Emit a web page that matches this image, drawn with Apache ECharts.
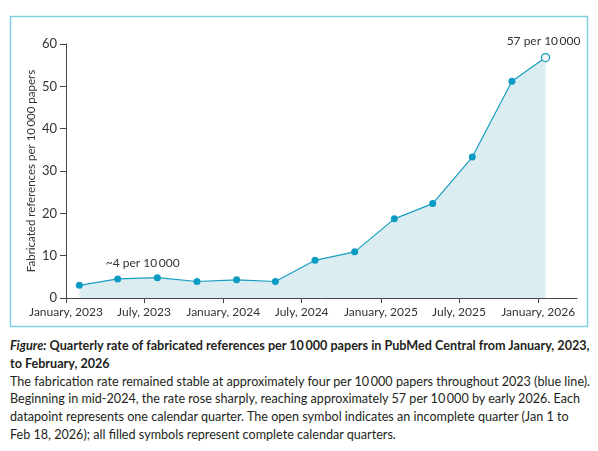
<!DOCTYPE html>
<html lang="en">
  <head>
    <meta charset="UTF-8" />
    <title>Fabricated references</title>
    <script src="https://cdn.jsdelivr.net/npm/echarts@6/dist/echarts.min.js"></script>
    <style>
      body { margin: 0; background: #fff; font-family: Lato, sans-serif; color: #231f20; }
      #chart { position: absolute; left: 0; top: 0; width: 598px; height: 330px; }
      #caption { position: absolute; left: 10px; top: 337px; width: 585px; font-size: 12.6px; line-height: 17.8px; white-space: nowrap; }
      #caption .title { font-weight: bold; }
    </style>
  </head>
  <body>
    <div id="chart"></div>
    <div id="caption">
      <div class="title"><i>Figure:</i> Quarterly rate of fabricated references per 10&#8201;000 papers in PubMed Central from January, 2023,<br>to February, 2026</div>
      <div>The fabrication rate remained stable at approximately four per 10&#8201;000 papers throughout 2023 (blue line).<br>Beginning in mid-2024, the rate rose sharply, reaching approximately 57 per 10&#8201;000 by early 2026. Each<br>datapoint represents one calendar quarter. The open symbol indicates an incomplete quarter (Jan 1 to<br>Feb 18, 2026); all filled symbols represent complete calendar quarters.</div>
    </div>
    <script>
      // quarterly datapoints (last one is the incomplete quarter)
      const pointDates = ['2023-02-01', '2023-05-01', '2023-08-01', '2023-11-01', '2024-02-01', '2024-05-01',
        '2024-08-01', '2024-11-01', '2025-02-01', '2025-05-01', '2025-08-01', '2025-11-01', '2026-01-18'];
      const rates = [3.0, 4.5, 4.8, 3.9, 4.3, 3.9, 8.9, 10.9, 18.7, 22.3, 33.3, 51.2, 56.8];

      const tickDates = ['2023-01-01', '2023-07-01', '2024-01-01', '2024-07-01', '2025-01-01', '2025-07-01', '2026-01-01'];
      const tickLabels = ['January, 2023', 'July, 2023', 'January, 2024', 'July, 2024', 'January, 2025', 'July, 2025', 'January, 2026'];

      const startNote = { text: '~4 per 10\u2009000', date: '2023-06-28', value: 8.3 };
      const endNote = '57 per 10\u2009000';

      function toTime(s) {
        let p = s.split('-');
        return Date.UTC(+p[0], +p[1] - 1, +p[2]);
      }

      const lineColor = '#169ec3';
      const tickTimes = tickDates.map(toTime);

      let seriesData = pointDates.map(function (d, i) {
        let item = { value: [toTime(d), rates[i]] };
        if (i === pointDates.length - 1) {
          item.symbolSize = 8;
          item.itemStyle = { color: '#fff', borderColor: lineColor, borderWidth: 1.3 };
          item.label = {
            show: true,
            position: 'top',
            distance: 6,
            offset: [-2, 0],
            formatter: endNote,
            color: '#333',
            fontSize: 12,
            fontFamily: 'Lato'
          };
        }
        return item;
      });

      let myChart = echarts.init(document.getElementById('chart'));
      let option = {
        animation: false,
        textStyle: { fontFamily: 'Lato' },
        graphic: [
          {
            type: 'rect',
            shape: { x: 10.5, y: 16.5, width: 577, height: 310 },
            style: { fill: 'none', stroke: '#7fd0e1', lineWidth: 1.5 },
            silent: true
          }
        ],
        grid: { left: 66, right: 21, top: 44, bottom: 32 },
        xAxis: {
          // dates as timestamps on a linear axis
          type: 'value',
          min: toTime('2023-01-01'),
          max: toTime('2026-04-01'),
          axisLine: { lineStyle: { color: '#444', width: 1 } },
          axisTick: { show: true, length: 5, lineStyle: { color: '#444' }, customValues: tickTimes },
          axisLabel: {
            customValues: tickTimes,
            color: '#333',
            fontSize: 12,
            margin: 8,
            formatter: function (val) {
              let i = tickTimes.indexOf(val);
              return i >= 0 ? tickLabels[i] : '';
            }
          },
          splitLine: { show: false }
        },
        yAxis: {
          type: 'value',
          min: 0,
          max: 60,
          interval: 10,
          name: 'Fabricated references per 10\u2009000 papers',
          nameLocation: 'middle',
          nameGap: 29,
          nameMoveOverlap: false,
          nameTextStyle: { color: '#333', fontSize: 11.5, fontWeight: 'normal', fontFamily: 'Lato' },
          axisLine: { show: true, lineStyle: { color: '#444', width: 1 } },
          axisTick: { show: true, length: 6, lineStyle: { color: '#444' } },
          axisLabel: { color: '#333', fontSize: 13, margin: 9 },
          splitLine: { show: false }
        },
        series: [
          {
            type: 'line',
            data: seriesData,
            symbol: 'circle',
            symbolSize: 7,
            lineStyle: { color: lineColor, width: 1.2 },
            itemStyle: { color: '#0c9bc2' },
            areaStyle: { color: '#dcedf2', opacity: 1 },
            markPoint: {
              symbol: 'circle',
              symbolSize: 0,
              data: [
                {
                  coord: [toTime(startNote.date), startNote.value],
                  label: {
                    show: true,
                    position: 'inside',
                    formatter: startNote.text,
                    color: '#333',
                    fontSize: 12,
                    fontFamily: 'Lato'
                  }
                }
              ]
            }
          }
        ]
      };
      myChart.setOption(option);
    </script>
  </body>
</html>
